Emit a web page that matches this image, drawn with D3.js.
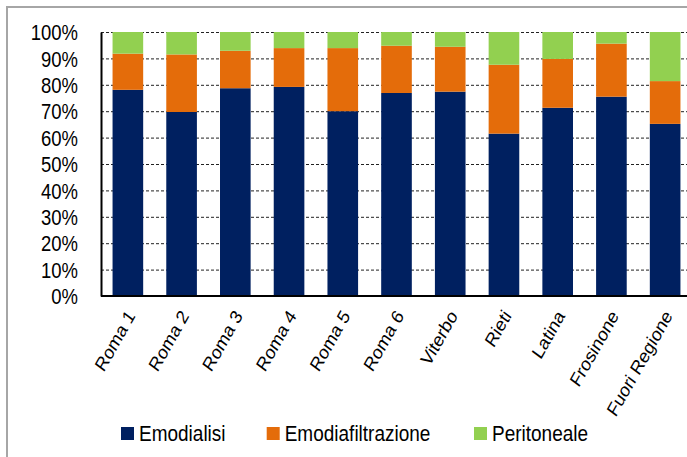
<!DOCTYPE html>
<html>
<head>
<meta charset="utf-8">
<script src="https://cdn.jsdelivr.net/npm/d3@7"></script>
<style>
  body { margin: 0; background: #fff; }
  text { font-family: "Liberation Sans", Arial, sans-serif; fill: #000; }
</style>
</head>
<body>
<div id="chart"></div>
<script>
// Data -----------------------------------------------------------------------
const categories = ["Roma 1", "Roma 2", "Roma 3", "Roma 4", "Roma 5", "Roma 6",
  "Viterbo", "Rieti", "Latina", "Frosinone", "Fuori Regione"];
const seriesNames = ["Emodialisi", "Emodiafiltrazione", "Peritoneale"];
const emodialisi = [78.1, 69.7, 78.7, 79.2, 70.0, 76.9, 77.4, 61.5, 71.3, 75.5, 65.2];
const emodiafiltrazione = [13.7, 21.8, 14.2, 14.7, 23.9, 17.9, 17.0, 26.1, 18.5, 20.1, 16.2];
const peritoneale = [8.2, 8.5, 7.1, 6.1, 6.1, 5.2, 5.6, 12.4, 10.2, 4.4, 18.6];
const yTicks = [0, 10, 20, 30, 40, 50, 60, 70, 80, 90, 100];
const colors = ["#002060", "#E46C0A", "#92D050"];

// Canvas ---------------------------------------------------------------------
const canvasWidth = 687;
const canvasHeight = 457;
const leftPadding = 101;
const plotRight = 692;
const topPadding = 32;
const plotBottom = 296;
const fontSize = 18.5;
const stretch = 1.15; // text in the picture is a bit taller than normal

const svg = d3.select("#chart")
  .append("svg")
  .attr("width", canvasWidth)
  .attr("height", canvasHeight);

// outer frame (runs off the right/bottom edge)
svg.append("rect")
  .attr("x", 7).attr("y", 7)
  .attr("width", 720).attr("height", 480)
  .attr("fill", "none")
  .attr("stroke", "#a6a6a6")
  .attr("stroke-width", 2);

const rows = categories.map((c, i) => ({
  cat: c,
  Emodialisi: emodialisi[i],
  Emodiafiltrazione: emodiafiltrazione[i],
  Peritoneale: peritoneale[i]
}));

const xScale = d3.scaleBand()
  .domain(categories)
  .range([leftPadding, plotRight])
  .paddingInner(0.43)
  .paddingOuter(0.215);
const yScale = d3.scaleLinear()
  .domain([0, 100])
  .range([plotBottom, topPadding]);

// gridlines
svg.append("g")
  .selectAll("line")
  .data(yTicks.filter(d => d > 0))
  .join("line")
  .attr("x1", leftPadding)
  .attr("x2", plotRight)
  .attr("y1", d => yScale(d) + 0.5)
  .attr("y2", d => yScale(d) + 0.5)
  .attr("stroke", "#222")
  .attr("stroke-width", 1)
  .attr("stroke-dasharray", "3,2");

// stacked bars
const stacked = d3.stack().keys(seriesNames)(rows);
svg.append("g")
  .selectAll("g")
  .data(stacked)
  .join("g")
  .attr("fill", (d, i) => colors[i])
  .selectAll("rect")
  .data(d => d)
  .join("rect")
  .attr("x", d => xScale(d.data.cat))
  .attr("y", d => yScale(d[1]))
  .attr("width", xScale.bandwidth())
  .attr("height", d => yScale(d[0]) - yScale(d[1]));

// y axis
const yAxis = svg.append("g")
  .attr("transform", "translate(" + leftPadding + ",0)")
  .call(d3.axisLeft(yScale).tickValues(yTicks).tickFormat(d => d + "%").tickSize(0).tickPadding(23));
yAxis.select(".domain").attr("stroke", "#000").attr("stroke-width", 2);
yAxis.selectAll("text")
  .style("font-size", fontSize + "px")
  .style("font-family", "'Liberation Sans', Arial, sans-serif")
  .attr("dy", "0.36em")
  .attr("transform", "scale(1," + stretch + ")");

// x axis
const xAxis = svg.append("g")
  .attr("transform", "translate(0," + plotBottom + ")")
  .call(d3.axisBottom(xScale).tickSize(0).tickPadding(0));
xAxis.select(".domain").attr("stroke", "#000").attr("stroke-width", 2)
  .attr("d", "M" + leftPadding + ",0H" + plotRight);
xAxis.selectAll("text")
  .attr("y", 0)
  .attr("dy", 0)
  .attr("transform", "translate(8,20) scale(1," + stretch + ") rotate(-57)")
  .style("text-anchor", "end")
  .style("font-size", "16.8px")
  .style("font-family", "'Liberation Sans', Arial, sans-serif");

// legend
const legendX = [121, 266.7, 474];
const legend = svg.append("g")
  .selectAll("g")
  .data(seriesNames)
  .join("g")
  .attr("transform", (d, i) => "translate(" + legendX[i] + ",427)");
legend.append("rect")
  .attr("width", 13)
  .attr("height", 13)
  .attr("fill", (d, i) => colors[i]);
legend.append("text")
  .attr("transform", "translate(18,14) scale(1," + stretch + ")")
  .style("font-size", "19px")
  .text(d => d);
</script>
</body>
</html>
